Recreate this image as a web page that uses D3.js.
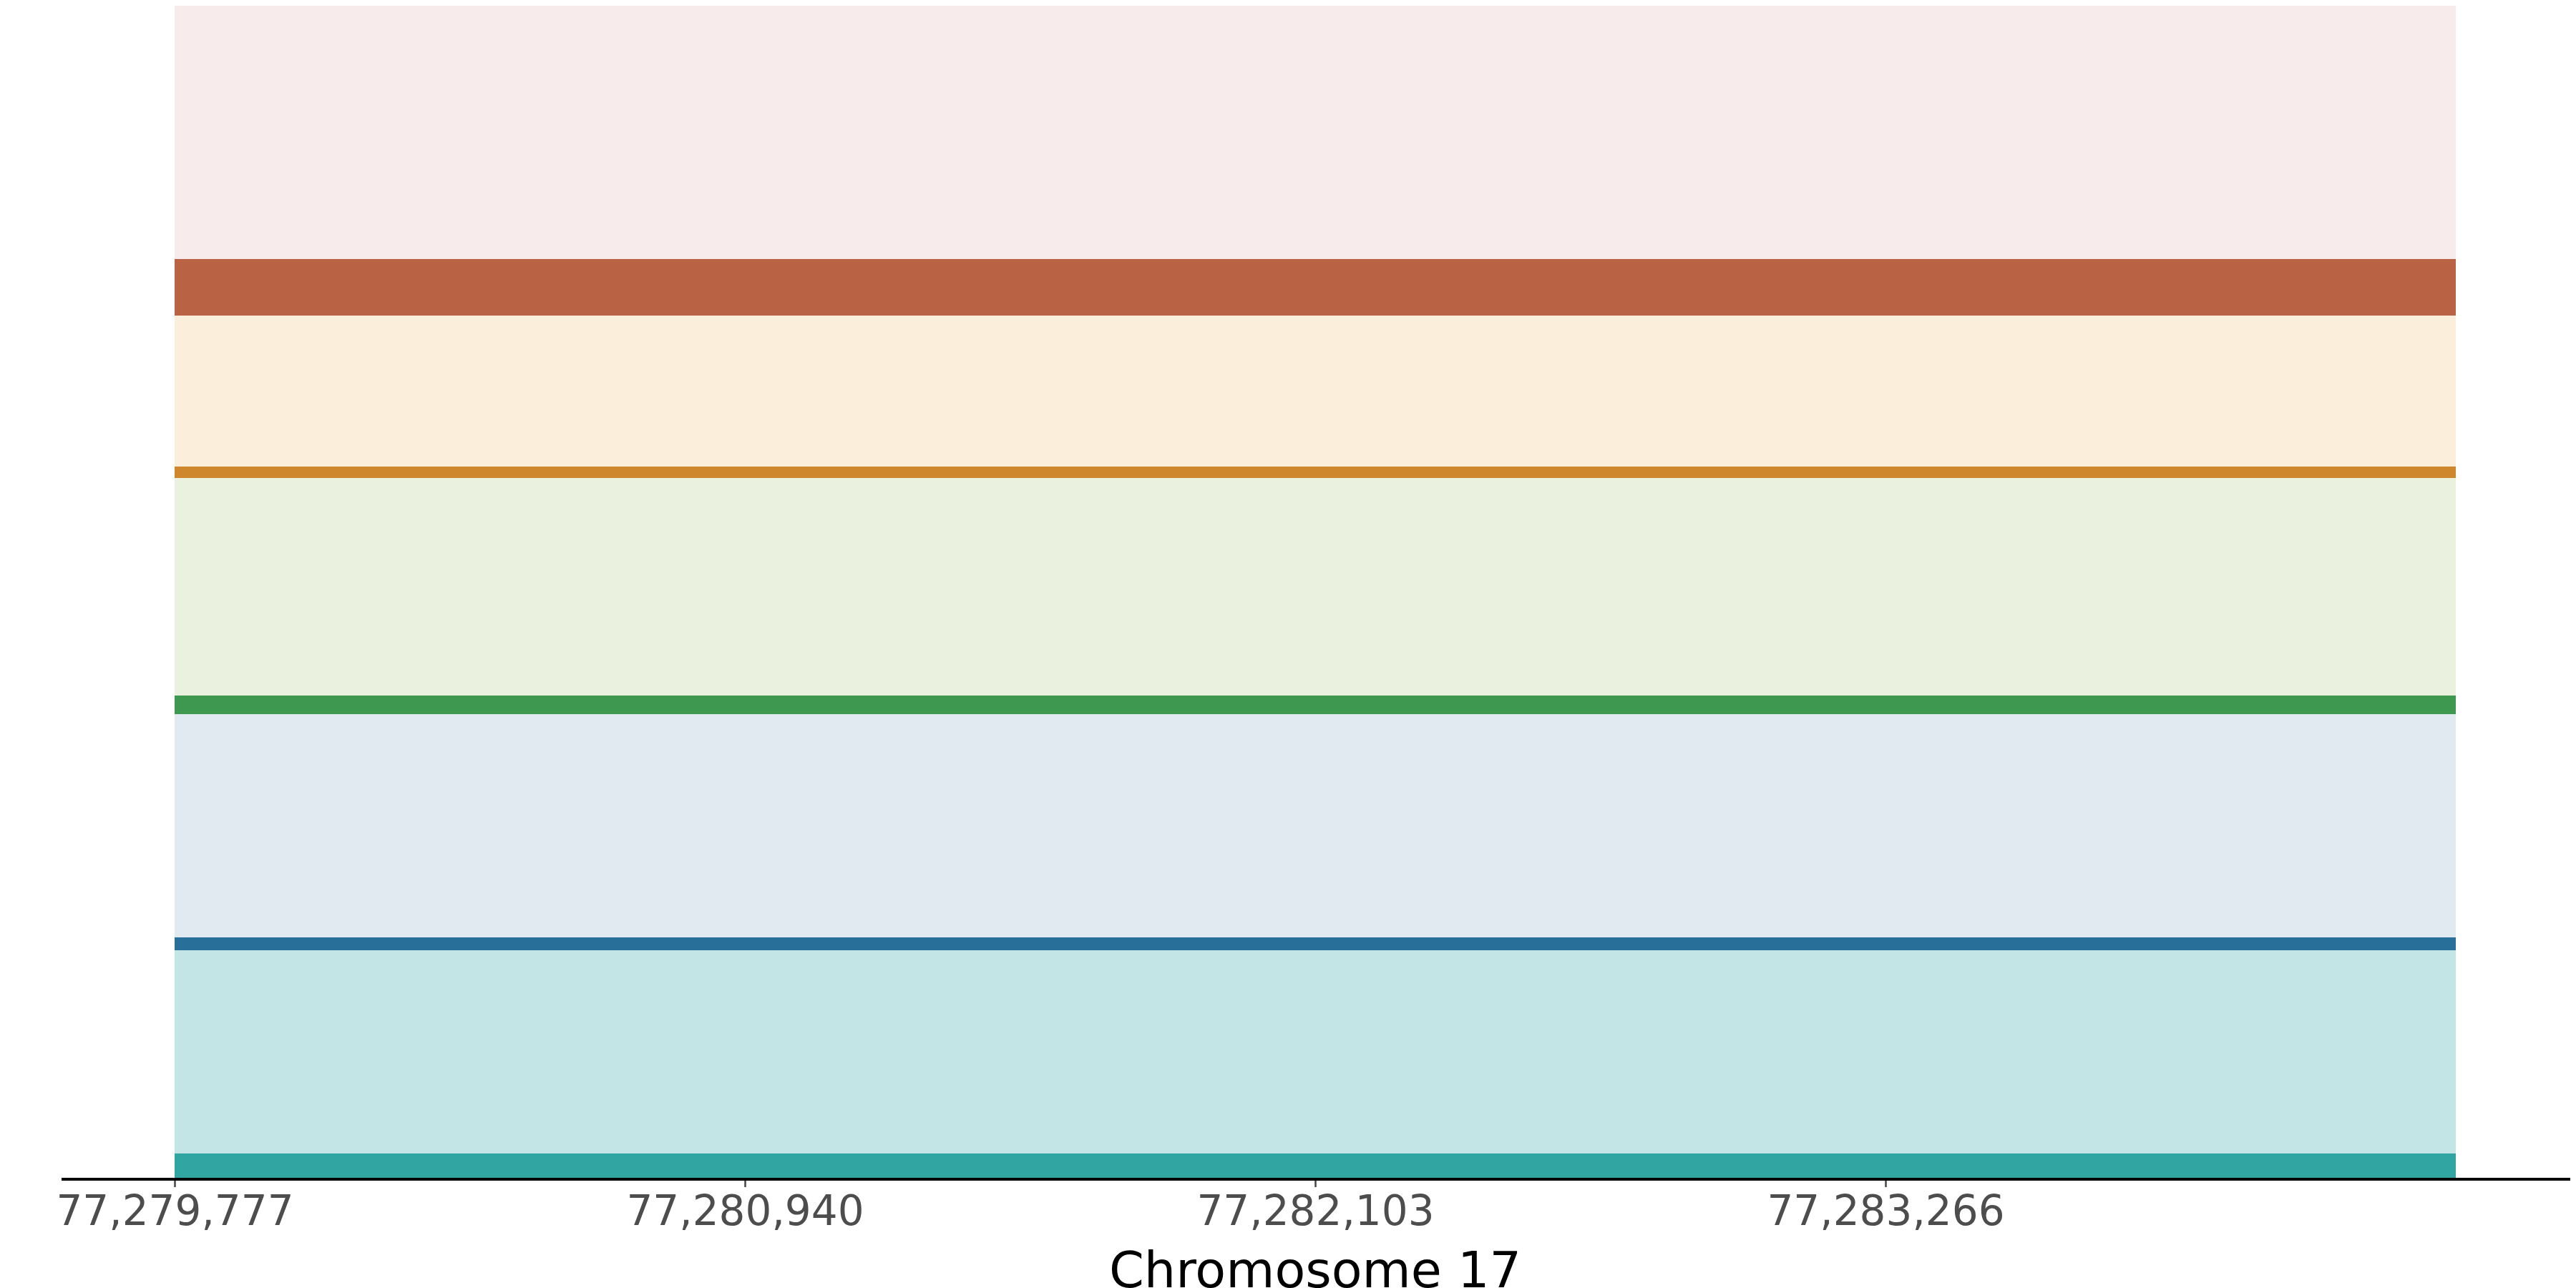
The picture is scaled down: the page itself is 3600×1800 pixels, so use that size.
<!DOCTYPE html>
<html>
<head>
<meta charset="utf-8">
<script src="https://cdn.jsdelivr.net/npm/d3@7"></script>
<style>
  body { margin: 0; background: #fff; }
  svg { display: block; }
</style>
</head>
<body>
<div id="chart"></div>
<script>
const width = 3600,
  height = 1800,
  margin = { top: 8, bottom: 154, left: 244, right: 168 };

// genomic window (chr17)
const regionStart = 77279777,
  regionEnd = 77284429;
const tickValues = [77279777, 77280940, 77282103, 77283266];

// tracks, top to bottom
const trackIds = ["track1", "track2", "track3", "track4", "track5"];
const signal = [79, 16, 26, 18, 34];      // bar height per track
const headroom = [354, 211, 304, 312, 284]; // empty lane above bar

const barColors = ["#b96244", "#cf872d", "#3f984f", "#286f99", "#31a5a2"];
const laneColors = ["#f7ebeb", "#fbeedb", "#eaf1de", "#e1e9f1", "#c4e5e6"];

// stack lanes from the bottom up
let rows = [];
let acc = 0;
for (let i = trackIds.length - 1; i >= 0; i--) {
  rows.push({ id: trackIds[i], kind: "bar", y0: acc, y1: acc + signal[i], color: barColors[i] });
  acc += signal[i];
  rows.push({ id: trackIds[i], kind: "lane", y0: acc, y1: acc + headroom[i], color: laneColors[i] });
  acc += headroom[i];
}

const xScale = d3.scaleLinear()
  .domain([regionStart, regionEnd])
  .range([margin.left, width - margin.right]);

const yScale = d3.scaleLinear()
  .domain([0, acc])
  .range([height - margin.bottom, margin.top]);

const svg = d3.select("#chart")
  .append("svg")
  .attr("width", width)
  .attr("height", height);

svg.selectAll(".seg")
  .data(rows)
  .join("rect")
  .attr("class", "seg")
  .attr("x", xScale(regionStart))
  .attr("width", xScale(regionEnd) - xScale(regionStart))
  .attr("y", d => yScale(d.y1))
  .attr("height", d => yScale(d.y0) - yScale(d.y1))
  .attr("fill", d => d.color)
  .attr("shape-rendering", "crispEdges");

const axisY = height - margin.bottom + 2;

const xAxis = d3.axisBottom(xScale)
  .tickValues(tickValues)
  .tickFormat(d3.format(","))
  .tickSize(11)
  .tickPadding(12);

const gx = svg.append("g")
  .attr("transform", `translate(0,${axisY})`)
  .call(xAxis);

gx.select(".domain").remove();
gx.selectAll(".tick line")
  .attr("stroke", "#444")
  .attr("stroke-width", 2.5);
gx.selectAll(".tick text")
  .attr("fill", "#4d4d4d")
  .style("font-family", "DejaVu Sans")
  .style("font-size", "58px");

// bottom spine runs wider than the data
svg.append("line")
  .attr("x1", 86)
  .attr("x2", 3592)
  .attr("y1", axisY)
  .attr("y2", axisY)
  .attr("stroke", "black")
  .attr("stroke-width", 4);

svg.append("text")
  .attr("x", (xScale(regionStart) + xScale(regionEnd)) / 2)
  .attr("y", 1799)
  .attr("text-anchor", "middle")
  .style("font-family", "DejaVu Sans")
  .style("font-size", "70px")
  .attr("fill", "black")
  .text("Chromosome 17");
</script>
</body>
</html>
